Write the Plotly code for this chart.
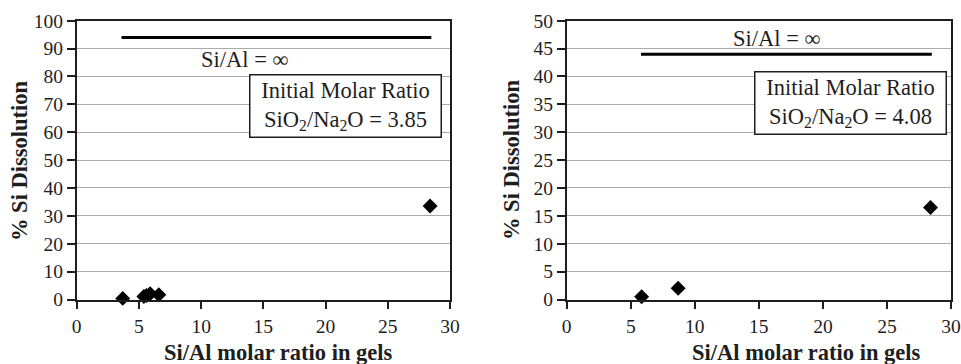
import plotly.graph_objects as go

# Left panel data
left_x = [3.7, 5.4, 5.6, 5.9, 6.6, 28.4]
left_y = [0.4, 1.1, 1.4, 2.1, 1.7, 33.5]
left_line_x = [3.6, 28.5]
left_line_y = [94, 94]
left_ratio = "3.85"

# Right panel data
right_x = [5.85, 8.7, 28.4]
right_y = [0.5, 2.0, 16.5]
right_line_x = [5.8, 28.5]
right_line_y = [44, 44]
right_ratio = "4.08"

x_ticks = [0, 5, 10, 15, 20, 25, 30]
left_y_ticks = list(range(0, 101, 10))
right_y_ticks = list(range(0, 51, 5))

x_title = "<b>Si/Al molar ratio in gels</b>"
y_title = "<b>% Si Dissolution</b>"
inf_label = "Si/Al = ∞"

W, H = 961, 364
FONT = "Liberation Serif, Times New Roman, serif"
INK = "#1e1e1e"

fig = go.Figure()

marker = dict(symbol="diamond", size=11.5, color="black", line=dict(width=0))

fig.add_trace(go.Scatter(x=left_x, y=left_y, mode="markers", marker=marker,
                         xaxis="x", yaxis="y", showlegend=False, cliponaxis=False))
fig.add_trace(go.Scatter(x=left_line_x, y=left_line_y, mode="lines",
                         line=dict(color="black", width=3), xaxis="x", yaxis="y", showlegend=False))
fig.add_trace(go.Scatter(x=right_x, y=right_y, mode="markers", marker=marker,
                         xaxis="x2", yaxis="y2", showlegend=False, cliponaxis=False))
fig.add_trace(go.Scatter(x=right_line_x, y=right_line_y, mode="lines",
                         line=dict(color="black", width=3), xaxis="x2", yaxis="y2", showlegend=False))

ydom = [1 - 299.5 / H, 1 - 20.7 / H]

axis_common = dict(
    showline=True, linecolor=INK, linewidth=1.5, mirror=True,
    ticks="outside", ticklen=8, tickcolor=INK, tickwidth=1.5,
    tickfont=dict(family=FONT, size=19.5, color=INK),
    zeroline=False, automargin=False,
)

fig.update_layout(
    width=W, height=H,
    margin=dict(l=0, r=0, t=0, b=0, autoexpand=False),
    paper_bgcolor="white", plot_bgcolor="white",
    font=dict(family=FONT, color=INK),
    xaxis=dict(domain=[76.7 / W, 450 / W], range=[0, 30], tickvals=x_ticks,
               showgrid=False, anchor="y", **axis_common),
    yaxis=dict(domain=ydom, range=[0, 100], tickvals=left_y_ticks,
               showgrid=True, gridcolor="#ababab", gridwidth=1.3, anchor="x",
               **axis_common),
    xaxis2=dict(domain=[566.7 / W, 951 / W], range=[0, 30], tickvals=x_ticks,
                showgrid=False, anchor="y2", **axis_common),
    yaxis2=dict(domain=ydom, range=[0, 50], tickvals=right_y_ticks,
                showgrid=True, gridcolor="#ababab", gridwidth=1.3, anchor="x2",
                **axis_common),
)

ann_font = dict(family=FONT, size=22.5, color=INK)
title_font = dict(family=FONT, size=22.5, color=INK)

def paper(xp, yp):
    return dict(x=xp / W, y=1 - yp / H, xref="paper", yref="paper",
                xanchor="center", yanchor="middle", showarrow=False)

# axis titles
fig.add_annotation(text=x_title, font=title_font, **paper(278, 352))
fig.add_annotation(text=x_title, font=title_font, **paper(806, 352))
fig.add_annotation(text=y_title, font=title_font, textangle=-90, **paper(19, 161))
fig.add_annotation(text=y_title, font=title_font, textangle=-90, **paper(511, 160))

# infinity labels
fig.add_annotation(text=inf_label, font=ann_font, **paper(245, 60))
fig.add_annotation(text=inf_label, font=ann_font, **paper(777, 39))

# boxes
fig.add_annotation(text="Initial Molar Ratio<br>SiO<sub>2</sub>/Na<sub>2</sub>O = " + left_ratio,
                   font=ann_font, bgcolor="white", bordercolor=INK, borderwidth=1.5,
                   borderpad=2, width=186, height=57, align="center", **paper(345.4, 106))
fig.add_annotation(text="Initial Molar Ratio<br>SiO<sub>2</sub>/Na<sub>2</sub>O = " + right_ratio,
                   font=ann_font, bgcolor="white", bordercolor=INK, borderwidth=1.5,
                   borderpad=2, width=186, height=57, align="center", **paper(850, 103.3))

fig.write_html("out.html")
